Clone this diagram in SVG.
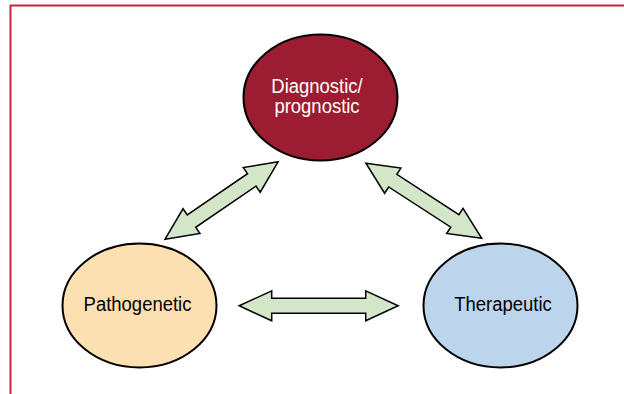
<svg xmlns="http://www.w3.org/2000/svg" width="624" height="394" viewBox="0 0 624 394">
<style>
.frame{fill:none;stroke:#c0283c;stroke-width:2}
.node{stroke:#000;stroke-width:2}
.arrow{fill:#d3e6c8;stroke:#000;stroke-width:1.5;stroke-linejoin:miter}
.lbl{font-family:"Liberation Sans Narrow","Liberation Sans",Arial,sans-serif;font-size:21px;text-anchor:middle}
</style>
<rect width="624" height="394" fill="#fff"/>
<path class="frame" d="M10.5 394 V5.5 H624"/>
<g id="connectors">
<path class="arrow" transform="translate(221.6,200.5) rotate(-34.4)" d="M-68.5 0 L-36.5 -15 L-36.5 -7.5 L36.5 -7.5 L36.5 -15 L68.5 0 L36.5 15 L36.5 7.5 L-36.5 7.5 L-36.5 15 Z"/>
<path class="arrow" transform="translate(423.8,200.8) rotate(32.95)" d="M-69 0 L-37 -15 L-37 -7.5 L37 -7.5 L37 -15 L69 0 L37 15 L37 7.5 L-37 7.5 L-37 15 Z"/>
<path class="arrow" transform="translate(318.7,305.8)" d="M-79.5 0 L-47 -15 L-47 -7.5 L47 -7.5 L47 -15 L79.5 0 L47 15 L47 7.5 L-47 7.5 L-47 15 Z"/>
</g>
<g id="diagnostic">
<ellipse class="node" cx="320.5" cy="97.5" rx="77" ry="63" fill="#9c1c31"/>
<text class="lbl" fill="#fff" transform="matrix(0.88,0,0,1,317,92.5)">Diagnostic/</text>
<text class="lbl" fill="#fff" transform="matrix(0.88,0,0,1,317,112.5)">prognostic</text>
</g>
<g id="pathogenetic">
<ellipse class="node" cx="139.5" cy="305.5" rx="77" ry="62" fill="#fde0b2"/>
<text class="lbl" fill="#000" transform="matrix(0.88,0,0,1,137.5,311)">Pathogenetic</text>
</g>
<g id="therapeutic">
<ellipse class="node" cx="500.5" cy="305.5" rx="77" ry="62" fill="#bdd5ec"/>
<text class="lbl" fill="#000" transform="matrix(0.88,0,0,1,503,311)">Therapeutic</text>
</g>
</svg>
